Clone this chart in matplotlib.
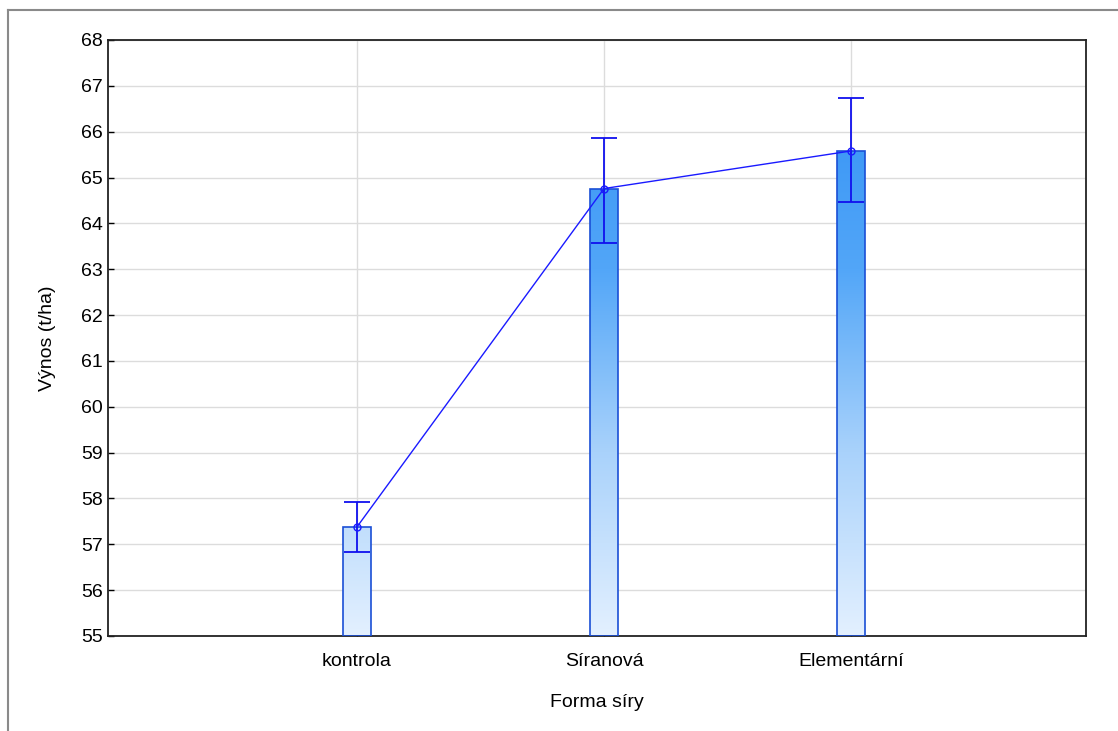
import numpy as np
import matplotlib
matplotlib.use("Agg")
import matplotlib.pyplot as plt
from matplotlib.colors import LinearSegmentedColormap
from matplotlib.patches import Rectangle
from matplotlib.lines import Line2D

plt.rcParams['font.family'] = ['Liberation Sans', 'DejaVu Sans']

categories = ["kontrola", "Síranová", "Elementární"]
means = [57.38, 64.76, 65.58]
err_low = [56.84, 63.58, 64.47]
err_high = [57.92, 65.87, 66.74]
yticks = list(range(55, 69))

fig = plt.figure(figsize=(11.18, 7.31), dpi=100)
ax = fig.add_axes([108/1118, 1-636/731, (1086-108)/1118, (636-40)/731])

x = np.arange(len(categories))

cmap = LinearSegmentedColormap.from_list("g", ["#e3f0ff", "#a9d2fb", "#52a6f8", "#3593f5"])
grad = np.linspace(0, 1, 256).reshape(-1, 1)
bw = 0.11
for xi, m in zip(x, means):
    im = ax.imshow(grad, extent=[xi - bw/2, xi + bw/2, 55, 67], origin='lower',
                   cmap=cmap, aspect='auto', zorder=2, interpolation='bilinear')
    rect = Rectangle((xi - bw/2, 55), bw, m - 55, facecolor='none', edgecolor='#1a4fd6',
                     linewidth=1.2, zorder=3)
    ax.add_patch(rect)
    im.set_clip_path(rect)

ax.set_xlim(-1.008, 2.951)
ax.set_ylim(55, 68)

yerr = np.array([[m - l for m, l in zip(means, err_low)], [h - m for m, h in zip(means, err_high)]])
ax.errorbar(x, means, yerr=yerr, fmt='none', ecolor='#1010ee', elinewidth=1.3, capsize=9.5,
            capthick=1.3, zorder=5)
ax.plot(x, means, color='#1a1aff', linewidth=1.0, marker='o', markersize=5,
        markerfacecolor='none', markeredgecolor='#1a1aff', zorder=6)

ax.set_yticks(yticks)
ax.set_xticks(x)
ax.set_xticklabels(categories)
ax.grid(True, color='#dcdcdc', linewidth=1.0, zorder=0)
ax.set_axisbelow(True)
ax.tick_params(direction='in', length=4, width=1, labelsize=14, colors='black')
ax.tick_params(axis='x', pad=12.5)
for s in ax.spines.values():
    s.set_linewidth(1.3)
    s.set_color('#222222')

ax.set_ylabel("Výnos (t/ha)", fontsize=14, labelpad=18)
ax.set_xlabel("Forma síry", fontsize=14, labelpad=17)

fig.add_artist(Line2D([8/1118, 8/1118], [0, 1-10/731], color='#8a8a8a', linewidth=1.5))
fig.add_artist(Line2D([8/1118, 1], [1-10/731, 1-10/731], color='#8a8a8a', linewidth=1.5))

fig.savefig("out.png", dpi=100)
